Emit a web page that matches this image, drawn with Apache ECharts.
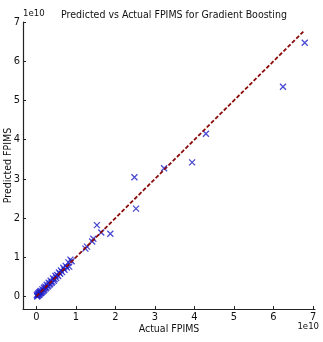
<!DOCTYPE html>
<html>
<head>
<meta charset="utf-8">
<script src="https://cdn.jsdelivr.net/npm/echarts@6/dist/echarts.min.js"></script>
<style>
html, body { margin: 0; padding: 0; background: #fff; }
#chart { width: 323px; height: 342px; }
</style>
</head>
<body>
<div id="chart"></div>
<script>
// values in units of 1e10
var actual = [
    0.01, 0.02, 0.03, 0.04, 0.05, 0.06, 0.07, 0.08, 0.09, 0.10,
    0.11, 0.12, 0.14, 0.15, 0.16, 0.18, 0.19, 0.20, 0.22, 0.23,
    0.25, 0.26, 0.28, 0.30, 0.31, 0.33, 0.35, 0.36, 0.38, 0.40,
    0.42, 0.44, 0.46, 0.48, 0.50, 0.52, 0.55, 0.57, 0.60, 0.62,
    0.65, 0.68, 0.71, 0.74, 0.77, 0.81, 0.83, 0.86, 0.89,
    1.24, 1.28, 1.41, 1.44, 1.53, 1.64, 1.87,
    2.48, 2.52, 3.23, 3.94, 4.29, 6.24, 6.79
];
var predicted = [
    0.03, 0.00, 0.06, 0.02, 0.08, 0.04, 0.10, 0.05, 0.12, 0.08,
    0.14, 0.09, 0.11, 0.18, 0.13, 0.15, 0.22, 0.17, 0.25, 0.20,
    0.22, 0.30, 0.25, 0.27, 0.35, 0.30, 0.32, 0.40, 0.35, 0.37,
    0.46, 0.40, 0.44, 0.52, 0.47, 0.55, 0.52, 0.61, 0.58, 0.66,
    0.62, 0.73, 0.68, 0.78, 0.74, 0.87, 0.76, 0.94, 0.90,
    1.22, 1.27, 1.40, 1.47, 1.82, 1.63, 1.60,
    3.04, 2.24, 3.27, 3.42, 4.15, 5.35, 6.47
];
var tickValues = [0, 1, 2, 3, 4, 5, 6, 7];
var lineEnds = [0, 6.79];

var points = [];
for (var i = 0; i < actual.length; i++) {
    points.push([actual[i], predicted[i]]);
}
var diag = [];
for (var j = 0; j < lineEnds.length; j++) {
    diag.push([lineEnds[j], lineEnds[j]]);
}

var myChart = echarts.init(document.getElementById('chart'));
var fontFamily = 'DejaVu Sans Condensed, DejaVu Sans, sans-serif';

var axisCommon = {
    type: 'value',
    nameMoveOverlap: false,
    nameTextStyle: { fontFamily: fontFamily, fontSize: 10.5, color: '#111' },
    axisLine: { show: true, onZero: false, lineStyle: { color: '#222', width: 1.2 } },
    axisTick: { show: true, inside: true, length: 3, customValues: tickValues, lineStyle: { color: '#222' } },
    axisLabel: { customValues: tickValues, fontFamily: fontFamily, fontSize: 11, color: '#111', margin: 3 },
    splitLine: { show: false }
};

var option = {
    animation: false,
    backgroundColor: '#fff',
    title: {
        text: 'Predicted vs Actual FPIMS for Gradient Boosting',
        left: 169,
        textAlign: 'center',
        top: 5,
        textStyle: { fontFamily: fontFamily, fontSize: 10.5, fontWeight: 'normal', color: '#111' }
    },
    grid: { left: 23, right: 8, top: 22, bottom: 33, containLabel: false, outerBoundsMode: 'none' },
    xAxis: Object.assign({}, axisCommon, {
        min: -0.34, max: 7.05,
        name: 'Actual FPIMS',
        nameLocation: 'middle',
        nameGap: 15
    }),
    yAxis: Object.assign({}, axisCommon, {
        min: -0.32, max: 7.0,
        name: 'Predicted FPIMS',
        nameLocation: 'middle',
        nameGap: 9
    }),
    graphic: [
        { type: 'text', left: 23, top: 9, style: { text: '1e10', font: '9.5px ' + fontFamily, fill: '#111' } },
        { type: 'text', right: 4, top: 322, style: { text: '1e10', font: '9.5px ' + fontFamily, fill: '#111' } }
    ],
    series: [
        {
            type: 'scatter',
            data: points,
            symbol: 'path://M0,0L10,10M10,0L0,10',
            symbolSize: 6,
            itemStyle: { color: 'rgba(0,0,0,0)', borderColor: '#1c1cc8', borderWidth: 1.3 }
        },
        {
            type: 'line',
            data: diag,
            symbol: 'none',
            lineStyle: { color: '#8b0a0a', width: 1.8, type: [4, 2] },
            z: 5
        }
    ]
};
myChart.setOption(option);
</script>
</body>
</html>
